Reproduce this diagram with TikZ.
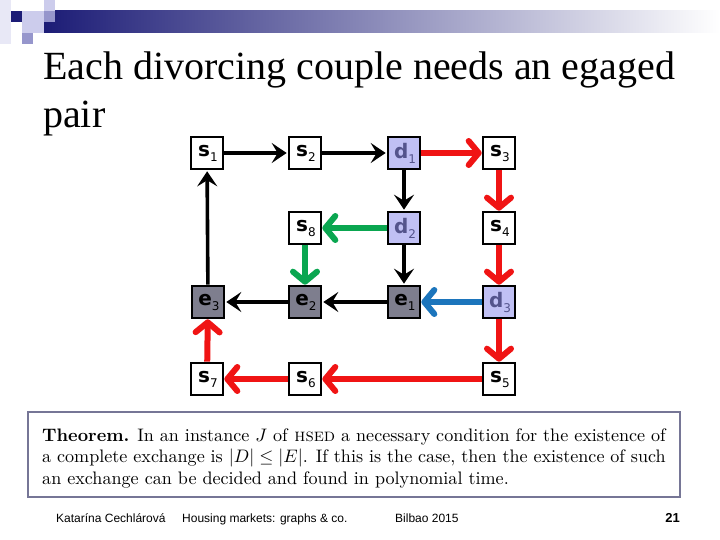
\documentclass[tikz,border=0pt]{standalone}
\usepackage{fontspec}
\usepackage{amsmath}
\usepackage{graphicx}
\usetikzlibrary{arrows.meta}
\newfontfamily\titlefont{Liberation Serif}
\newfontfamily\footfont{Liberation Sans}
\newfontfamily\nodefont{DejaVu Sans}
\definecolor{Navy}{RGB}{28,28,118}
\definecolor{FaintLav}{RGB}{232,232,246}
\definecolor{LightLav}{RGB}{204,204,236}
\definecolor{MidLav}{RGB}{150,150,204}
\definecolor{DFill}{RGB}{192,192,244}
\definecolor{DText}{RGB}{84,84,140}
\definecolor{EFill}{RGB}{126,126,142}
\definecolor{EdgeRed}{RGB}{240,20,20}
\definecolor{EdgeGreen}{RGB}{10,166,80}
\definecolor{EdgeBlue}{RGB}{28,117,188}
\definecolor{FrameGray}{RGB}{118,118,150}
\newcommand{\lbl}[2]{\hspace*{2pt}{\bfseries #1}\raisebox{-5pt}{\fontsize{12}{12}\selectfont\mdseries #2}}

\begin{document}
\begin{tikzpicture}[x=1pt, y=-1pt,
    house/.style={draw=black, line width=2.6pt, minimum size=32pt, inner sep=0pt,
                  font=\nodefont\fontsize{20}{20}\selectfont},
    snode/.style={house, fill=white},
    dnode/.style={house, fill=DFill, text=DText},
    enode/.style={house, fill=EFill},
    blk/.style={line width=3.6pt, -{Stealth[length=15pt, width=20pt, inset=6pt]}},
    fat/.style={line width=6pt, -{Straight Barb[length=10pt, width=24pt, line cap=round, line join=round]}},
    red/.style={fat, EdgeRed},
    grn/.style={fat, EdgeGreen},
    blu/.style={fat, EdgeBlue}]
      \useasboundingbox (0,0) rectangle (720,540);

      % Corner squares and bar
      \fill[FaintLav] (0,0) rectangle (11,44);
      \shade[left color=Navy, right color=white] (44,11) rectangle (720,33);
      \fill[Navy] (11,11) rectangle (22,22);
      \fill[LightLav] (22,11) rectangle (44,22);
      \fill[LightLav] (44,0) rectangle (55,11);
      \fill[MidLav] (44,11) rectangle (55,22);
      \fill[LightLav] (22,22) rectangle (44,33);
      \fill[MidLav] (22,33) rectangle (33,44);

      % Title
      \node[anchor=base west, align=left, inner sep=0pt,
            font=\titlefont\fontsize{40}{48}\selectfont] (title) at (43,128)
        {Each divorcing couple needs an egaged\\pair};

      % Houses
      \foreach \name/\x/\y/\kind/\l/\n in {s1/207/153/snode/s/1, s2/305/153/snode/s/2,
                            d1/404/153/dnode/d/1, s3/499/153/snode/s/3,
                            s8/305/228/snode/s/8, d2/404/228/dnode/d/2, s4/499/228/snode/s/4,
                            e3/208/302/enode/e/3, e2/305/302/enode/e/2,
                            e1/404/302/enode/e/1, d3/499/302/dnode/d/3,
                            s7/207/379/snode/s/7, s6/305/379/snode/s/6, s5/499/379/snode/s/5} {
        \node[\kind] (\name) at (\x,\y) {\lbl{\l}{\n}};
      }

      % Edges
      \foreach \a/\b in {s1/s2, s2/d1, d1/d2, d2/e1, e1/e2, e2/e3, e3/s1} {
        \draw[blk, shorten >=1pt] (\a) -- (\b);
      }
      \foreach \a/\b in {d1/s3, s3/s4, s4/d3, d3/s5, s5/s6, s6/s7, s7/e3} {
        \draw[red] (\a) -- (\b);
      }
      \draw[grn] (d2) -- (s8);
      \draw[grn] (s8) -- (e2);
      \draw[blu] (d3) -- (e1);

      % Theorem
      \draw[FrameGray, line width=2.5pt] (28,412) rectangle (680,497);
      \node[anchor=base west, inner sep=0pt] (thm) at (42,441)
        {\scalebox{1.81}{\parbox[t]{344.5pt}{\textbf{Theorem.} In an instance $J$ of
        \textsc{hsed} a necessary condition for the existence of\linebreak a complete
        exchange is $|D|\le|E|$. If this is the case, then the existence of such\linebreak
        an exchange can be decided and found in polynomial time.}}};

      % Footer
      \node[anchor=base west, inner sep=0pt, font=\footfont\fontsize{12}{12}\selectfont] (author) at (56,522) {Katarína Cechlárová};
      \node[anchor=base west, inner sep=0pt, font=\footfont\fontsize{12}{12}\selectfont] (talk) at (182,522) {Housing markets: graphs \& co.};
      \node[anchor=base west, inner sep=0pt, font=\footfont\fontsize{12}{12}\selectfont] (place) at (395,522) {Bilbao 2015};
      \node[anchor=base east, inner sep=0pt, font=\footfont\bfseries\fontsize{13}{13}\selectfont] (page) at (680,522) {21};
    \end{tikzpicture}
\end{document}
